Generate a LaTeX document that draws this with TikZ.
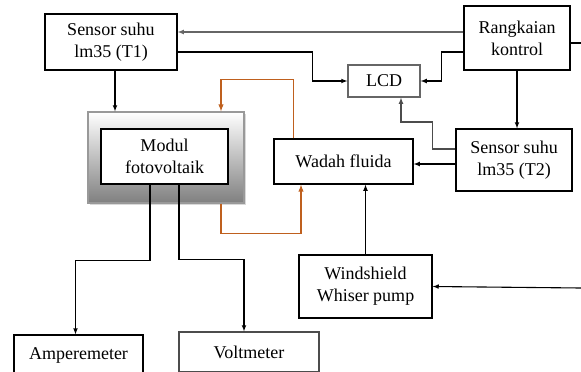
\documentclass[tikz,border=0pt]{standalone}
\usepackage{fontspec}
\setmainfont{Liberation Serif}
\usetikzlibrary{shadows}
\definecolor{pipe}{RGB}{191,96,30}
\begin{document}
\begin{tikzpicture}[
x=1pt, y=-1pt,
every node/.style={
draw,
line width=1.3pt,
align=center,
font=\fontsize{18}{22}\selectfont
},
wire/.style={line width=1.1pt},
pipeline/.style={line width=1.4pt, draw=pipe}
]

\useasboundingbox (0,0) rectangle (581,372);

\node[minimum width=132, minimum height=56] (T1) at (111,42)
{Sensor suhu\\lm35 (T1)};

\node[minimum width=106, minimum height=64] (RK) at (517,38)
{Rangkaian\\kontrol};

\node[draw=black!60, minimum width=72, minimum height=32] (LCD) at (384,81)
{LCD};

\node[minimum width=116, minimum height=62] (T2) at (514,160)
{Sensor suhu\\lm35 (T2)};

\node[minimum width=139, minimum height=45] (Wadah) at (343.5,161.5)
{Wadah fluida};

\node[draw=black!40, top color=white, bottom color=black!50,
drop shadow={shadow xshift=2pt, shadow yshift=-2pt, opacity=0.3},
minimum width=156, minimum height=91] (ModulBg) at (166,157.5)
{};

\node[fill=white, minimum width=127, minimum height=55] (Modul) at (164.5,156.5)
{Modul\\fotovoltaik};

\node[minimum width=133, minimum height=63] (Pump) at (365.5,286.5)
{Windshield\\Whiser pump};

\node[minimum width=129, minimum height=40] (Amp) at (78.5,355)
{Amperemeter};

\node[draw=black!70, minimum width=140, minimum height=40] (Volt) at (249,352)
{Voltmeter};

\coordinate (RKout) at (581,43);
\coordinate (PumpIn) at (581,288);

\draw[wire, -latex, black!60] ([yshift=6pt]RK.west) -- ([yshift=6pt]RK.west -| T1.east);
\draw[wire] ([yshift=-5pt]RK.east) -- (RKout);
\draw[wire, -latex] ([yshift=-10pt]T1.east) -- ++(135,0) |- (LCD.west);
\draw[wire, -latex] ([yshift=-14pt]RK.west) -- ++(-22,0) |- (LCD.east);
\draw[wire, -latex] (RK.south) -- (RK.south |- T2.north);
\draw[wire, -latex, black!70] ([yshift=11pt]T2.west) -- ++(-23,0) -- ++(0,-27) -| ([xshift=17pt]LCD.south);
\draw[wire, -latex] ([yshift=-4pt]T2.west) -- ([yshift=-4pt]T2.west -| Wadah.east);
\draw[wire, -latex] ([xshift=4pt]T1.south) -- ([xshift=4pt]T1.south |- ModulBg.north);

\draw[pipeline, -latex] ([xshift=-50pt]Wadah.north) -- ++(0,-59) -| ([xshift=55pt]ModulBg.north);
\draw[pipeline, -latex] ([xshift=55pt]ModulBg.south) -- ++(0,30) -| ([xshift=-42.5pt]Wadah.south);

\draw[wire, -latex] ([xshift=-14.5pt]Modul.south) -- ++(0,76) -| ([xshift=-3pt]Amp.north);
\draw[wire, -latex] ([xshift=14.5pt]Modul.south) -- ++(0,75) -| ([xshift=-5pt]Volt.north);
\draw[wire, -latex] (Pump.north) -- (Pump.north |- Wadah.south);
\draw[wire, -latex] (PumpIn) -- (Pump.east);

\end{tikzpicture}
\end{document}
